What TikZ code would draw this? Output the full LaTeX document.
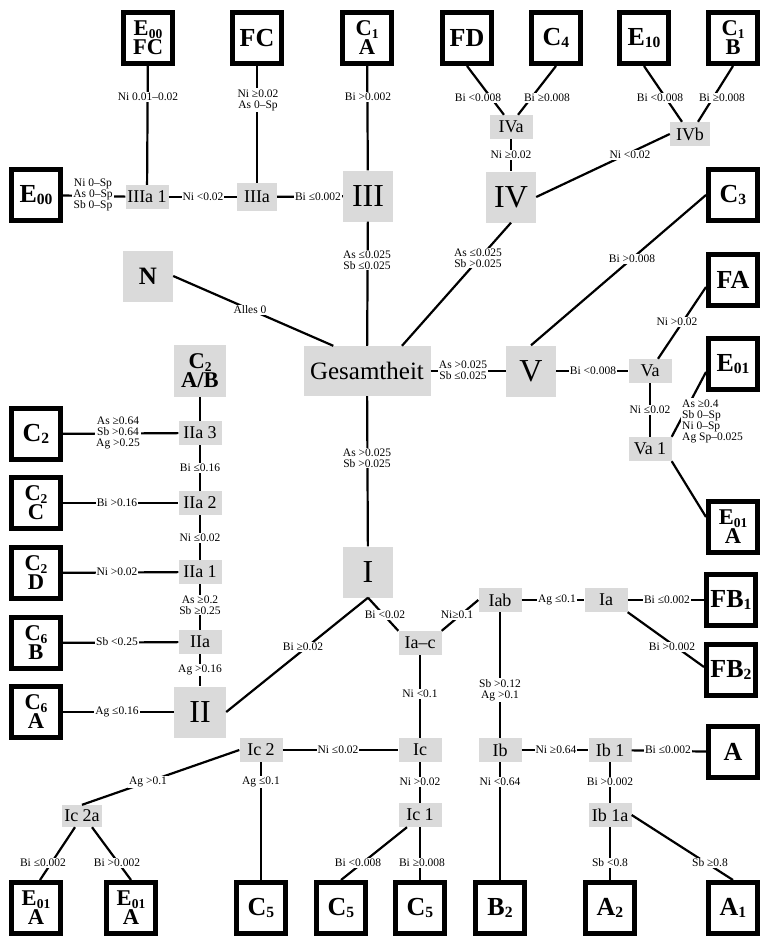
\documentclass[tikz,border=0pt]{standalone}
\usepackage{fontspec}
\setmainfont{Liberation Serif}
\usepackage{graphicx}
\newcommand\sbs[1]{\raisebox{-0.1em}{\scalebox{0.6}{#1}}}
\definecolor{nodegray}{RGB}{218,218,218}
\begin{document}
\begin{tikzpicture}[x=1pt,y=-1pt,
  bx/.style={draw=black, line width=5pt, fill=white, minimum width=49pt, minimum height=51pt, inner sep=0pt, align=center, font=\fontsize{26}{20}\selectfont\bfseries},
  bx2/.style={bx, font=\fontsize{22.5}{19}\selectfont\bfseries},
  gbig/.style={fill=nodegray, minimum width=50pt, minimum height=51pt, inner sep=0pt, align=center, font=\fontsize{32}{32}\selectfont},
  gsm/.style={fill=nodegray, minimum width=43pt, minimum height=24pt, inner sep=0pt, font=\fontsize{18}{18}\selectfont},
  lbl/.style={fill=white, inner sep=1pt, align=center, font=\fontsize{11.5}{11}\selectfont},
  ln/.style={line width=2.2pt}
]
\fill[white] (0,0) rectangle (763,938);
\useasboundingbox (0,0) rectangle (763,938);

% black boxes
\node[bx2] (e00fc) at (148,38) {E\sbs{00}\\FC};
\node[bx] (fc) at (257,38) {FC};
\node[bx2] (c1a) at (367,38) {C\sbs{1}\\A};
\node[bx] (fd) at (467,38) {FD};
\node[bx] (c4) at (556,38) {C\sbs{4}};
\node[bx] (e10) at (644,38) {E\sbs{10}};
\node[bx2] (c1b) at (733,38) {C\sbs{1}\\B};
\node[bx] (e00) at (36,195) {E\sbs{00}};
\node[bx] (c3) at (733,195) {C\sbs{3}};
\node[bx] (fa) at (733,280) {FA};
\node[bx] (e01) at (733,364) {E\sbs{01}};
\node[bx] (c2) at (36,434) {C\sbs{2}};
\node[bx2] (c2c) at (36,503) {C\sbs{2}\\C};
\node[bx2] (e01a) at (733,527) {E\sbs{01}\\A};
\node[bx2] (c2d) at (36,573) {C\sbs{2}\\D};
\node[bx] (fb1) at (731,600) {FB\sbs{1}};
\node[bx2] (c6b) at (36,643) {C\sbs{6}\\B};
\node[bx] (fb2) at (731,670) {FB\sbs{2}};
\node[bx2] (c6a) at (36,712) {C\sbs{6}\\A};
\node[bx] (a) at (733,752) {A};
\node[bx2] (e01ab1) at (36,908) {E\sbs{01}\\A};
\node[bx2] (e01ab2) at (131,908) {E\sbs{01}\\A};
\node[bx] (c5a) at (261,908) {C\sbs{5}};
\node[bx] (c5b) at (341,908) {C\sbs{5}};
\node[bx] (c5c) at (420,908) {C\sbs{5}};
\node[bx] (b2) at (500,908) {B\sbs{2}};
\node[bx] (a2) at (610,908) {A\sbs{2}};
\node[bx] (a1) at (733,908) {A\sbs{1}};

% big grey nodes
\node[gbig] (iii) at (368,196) {III};
\node[gbig] (iv) at (511,197) {IV};
\node[gbig, font=\fontsize{25}{25}\selectfont\bfseries] (n) at (148,276) {N};
\node[gbig, minimum width=127pt, minimum height=50pt, font=\fontsize{25}{25}\selectfont] (ges) at (367,371) {Gesamtheit};
\node[gbig] (v) at (531,371) {V};
\node[gbig, minimum width=52pt, minimum height=52pt, font=\fontsize{22.5}{19}\selectfont\bfseries] (c2ab) at (200,371) {C\sbs{2}\\A/B};
\node[gbig] (i) at (368,572) {I};
\node[gbig, minimum width=52pt] (ii) at (200,712) {II};

% small grey nodes
\node[gsm] (iiia1) at (147,197) {IIIa 1};
\node[gsm, minimum width=40pt, minimum height=28pt] (iiia) at (257,197) {IIIa};
\node[gsm] (iva) at (511,127) {IVa};
\node[gsm, minimum width=40pt] (ivb) at (690,134) {IVb};
\node[gsm] (va) at (650,371) {Va};
\node[gsm] (va1) at (650,449) {Va 1};
\node[gsm] (iia3) at (200,433) {IIa 3};
\node[gsm] (iia2) at (200,503) {IIa 2};
\node[gsm] (iia1) at (200,572) {IIa 1};
\node[gsm] (iia) at (200,642) {IIa};
\node[gsm] (iab) at (500,600) {Iab};
\node[gsm] (ia) at (606,600) {Ia};
\node[gsm] (iac) at (420,643) {Ia–c};
\node[gsm] (ic2) at (261,750) {Ic 2};
\node[gsm] (ic) at (420,750) {Ic};
\node[gsm] (ib) at (500,750) {Ib};
\node[gsm] (ib1) at (610,750) {Ib 1};
\node[gsm, minimum width=40pt, minimum height=22pt] (ic2a) at (82,816) {Ic 2a};
\node[gsm] (ic1) at (420,815) {Ic 1};
\node[gsm] (ib1a) at (610,815) {Ib 1a};

% connectors
\draw[ln] (e00fc) -- (iiia1);
\draw[ln] (fc) -- (iiia);
\draw[ln] (c1a) -- (iii);
\draw[ln] (e00) -- (iiia1);
\draw[ln] (iiia1) -- (iiia);
\draw[ln] (iiia) -- (iii);
\draw[ln] (fd.south) -- (iva.120);
\draw[ln] (c4.south) -- (iva.60);
\draw[ln] (e10.south) -- ([xshift=-8pt]ivb.north);
\draw[ln] (c1b.south) -- ([xshift=8pt]ivb.north);
\draw[ln] (iva) -- (iv);
\draw[ln] (iv.east) -- (ivb.west);
\draw[ln] (ges) -- (iii);
\draw[ln] ([xshift=35pt]ges.north) -- (iv.south);
\draw[ln] ([xshift=30pt]ges.north west) -- (n.east);
\draw[ln] (ges) -- (v);
\draw[ln] (v.north) -- (c3.west);
\draw[ln] (v) -- (va);
\draw[ln] ([xshift=8pt]va.north) -- ([yshift=-7pt]fa.west);
\draw[ln] (va) -- (va1);
\draw[ln] (va1.north east) -- ([yshift=-8pt]e01.west);
\draw[ln] (va1.south east) -- ([yshift=10pt]e01a.west);
\draw[ln] (ges) -- (i);
\draw[ln] (c2ab) -- (iia3);
\draw[ln] (c2) -- (iia3);
\draw[ln] (iia3) -- (iia2);
\draw[ln] (c2c) -- (iia2);
\draw[ln] (iia2) -- (iia1);
\draw[ln] (c2d) -- (iia1);
\draw[ln] (iia1) -- (iia);
\draw[ln] (c6b) -- (iia);
\draw[ln] (iia) -- (ii);
\draw[ln] (c6a) -- (ii);
\draw[ln] (ii.east) -- (i.south);
\draw[ln] (i.south) -- (iac.north west);
\draw[ln] (iac.north east) -- (iab.west);
\draw[ln] (iab) -- (ia);
\draw[ln] (ia) -- (fb1);
\draw[ln] (ia.south east) -- ([yshift=3pt]fb2.west);
\draw[ln] (iac) -- (ic);
\draw[ln] (iab) -- (ib);
\draw[ln] (ic2) -- (ic);
\draw[ln] (ic) -- (ic1);
\draw[ln] (ib) -- (b2);
\draw[ln] (ib) -- (ib1);
\draw[ln] (ib1) -- (a);
\draw[ln] (ib1) -- (ib1a);
\draw[ln] (ib1a) -- (a2);
\draw[ln] (ib1a.east) -- (a1.north);
\draw[ln] (ic2.west) -- (ic2a.north);
\draw[ln] (ic2) -- (c5a);
\draw[ln] ([xshift=-7pt]ic2a.south) -- ([xshift=4pt]e01ab1.north);
\draw[ln] ([xshift=10pt]ic2a.south) -- (e01ab2.north);
\draw[ln] ([xshift=-13pt]ic1.south) -- (c5b.north);
\draw[ln] (ic1) -- (c5c);

% labels
\node[lbl] (l1) at (148,97) {Ni 0.01–0.02};
\node[lbl] (l2) at (258,100) {Ni ≥0.02\\As 0–Sp};
\node[lbl] (l3) at (368,97) {Bi >0.002};
\node[lbl] (l4) at (93,195) {Ni 0–Sp\\As 0–Sp\\Sb 0–Sp};
\node[lbl] (l5) at (203,197) {Ni <0.02};
\node[lbl] (l6) at (318,197) {Bi ≤0.002};
\node[lbl] (l7) at (478,98) {Bi <0.008};
\node[lbl] (l8) at (547,98) {Bi ≥0.008};
\node[lbl] (l9) at (660,98) {Bi <0.008};
\node[lbl] (l10) at (722,98) {Bi ≥0.008};
\node[lbl] (l11) at (511,155) {Ni ≥0.02};
\node[lbl] (l12) at (630,155) {Ni <0.02};
\node[lbl] (l13) at (367,260) {As ≤0.025\\Sb ≤0.025};
\node[lbl] (l14) at (478,258) {As ≤0.025\\Sb >0.025};
\node[lbl] (l15) at (632,259) {Bi >0.008};
\node[lbl] (l16) at (250,310) {Alles 0};
\node[lbl] (l17) at (463,370) {As >0.025\\Sb ≤0.025};
\node[lbl] (l18) at (593,371) {Bi <0.008};
\node[lbl] (l19) at (677,322) {Ni >0.02};
\node[lbl] (l20) at (650,410) {Ni ≤0.02};
\node[lbl, align=left, anchor=west] (l21) at (681,421) {As ≥0.4\\Sb 0–Sp\\Ni 0–Sp\\Ag Sp–0.025};
\node[lbl] (l22) at (367,458) {As >0.025\\Sb >0.025};
\node[lbl] (l23) at (118,433) {As ≥0.64\\Sb >0.64\\Ag >0.25};
\node[lbl] (l24) at (200,468) {Bi ≤0.16};
\node[lbl] (l25) at (117,503) {Bi >0.16};
\node[lbl] (l26) at (200,538) {Ni ≤0.02};
\node[lbl] (l27) at (117,572) {Ni >0.02};
\node[lbl] (l28) at (200,605) {As ≥0.2\\Sb ≥0.25};
\node[lbl] (l29) at (117,642) {Sb <0.25};
\node[lbl] (l30) at (200,670) {Ag >0.16};
\node[lbl] (l31) at (117,712) {Ag ≤0.16};
\node[lbl] (l32) at (303,647) {Bi ≥0.02};
\node[lbl] (l33) at (385,615) {Bi <0.02};
\node[lbl] (l34) at (457,615) {Ni≥0.1};
\node[lbl] (l35) at (557,600) {Ag ≤0.1};
\node[lbl] (l36) at (667,600) {Bi ≤0.002};
\node[lbl] (l37) at (672,647) {Bi >0.002};
\node[lbl] (l38) at (420,694) {Ni <0.1};
\node[lbl] (l39) at (500,690) {Sb >0.12\\Ag >0.1};
\node[lbl] (l40) at (338,750) {Ni ≤0.02};
\node[lbl] (l41) at (420,782) {Ni >0.02};
\node[lbl] (l42) at (500,782) {Ni <0.64};
\node[lbl] (l43) at (556,750) {Ni ≥0.64};
\node[lbl] (l44) at (668,750) {Bi ≤0.002};
\node[lbl] (l45) at (610,782) {Bi >0.002};
\node[lbl] (l46) at (610,863) {Sb <0.8};
\node[lbl] (l47) at (710,863) {Sb ≥0.8};
\node[lbl] (l48) at (148,782) {Ag >0.1};
\node[lbl] (l49) at (261,782) {Ag ≤0.1};
\node[lbl] (l50) at (43,863) {Bi ≤0.002};
\node[lbl] (l51) at (117,863) {Bi >0.002};
\node[lbl] (l52) at (358,863) {Bi <0.008};
\node[lbl] (l53) at (422,863) {Bi ≥0.008};
\end{tikzpicture}
\end{document}
